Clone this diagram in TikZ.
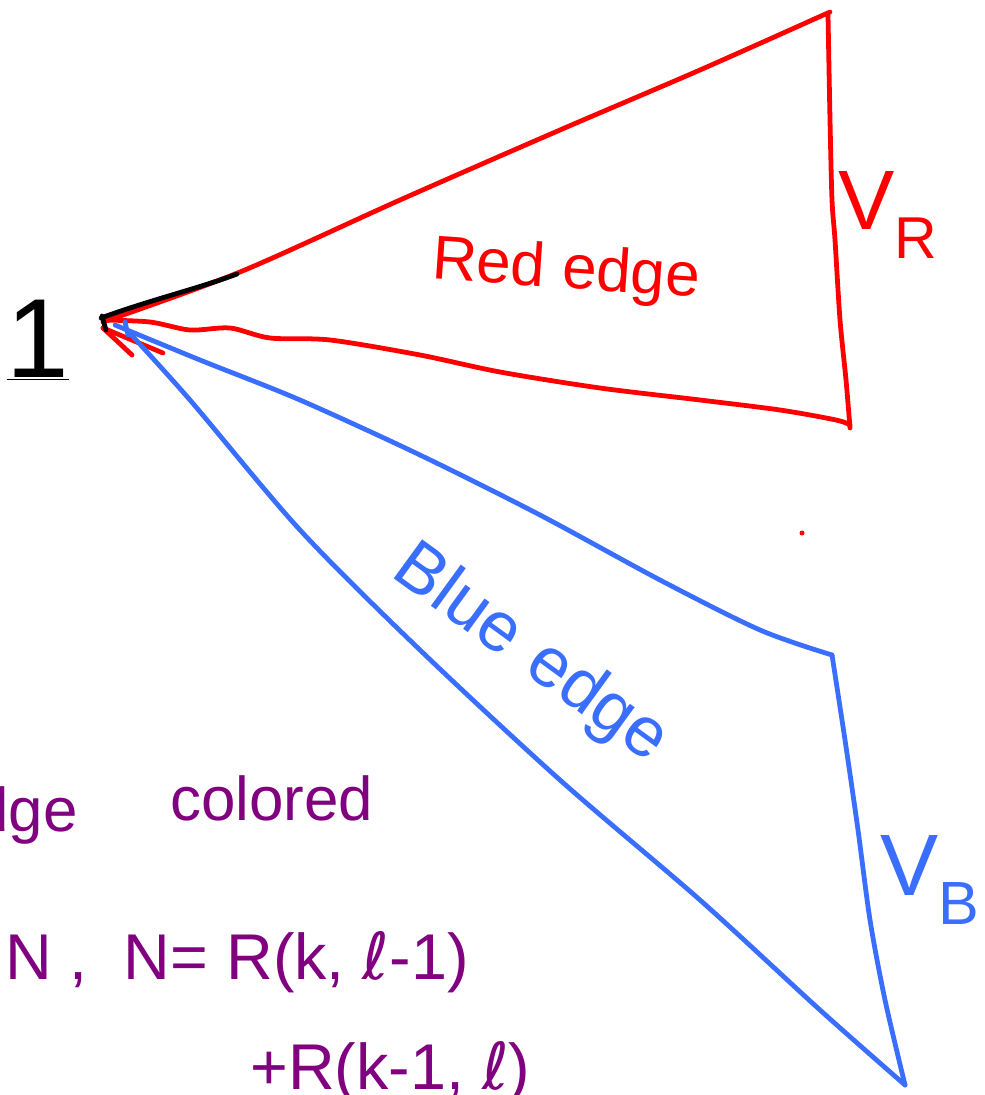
\documentclass[tikz,border=0pt]{standalone}
\usepackage{fontspec}
\setmainfont{Liberation Sans}
\newfontfamily\dvfont{DejaVu Sans}
\begin{document}
\begin{tikzpicture}[x=0.025cm,y=-0.025cm,
  pen/.style={line width=3.4pt,line cap=round,line join=round},
  redink/.style={pen,draw={rgb,255:red,255;green,0;blue,0}},
  blueink/.style={pen,draw={rgb,255:red,58;green,110;blue,255}},
  blackink/.style={pen,draw=black},
  lbl/.style={inner sep=0pt,anchor=center}]
\definecolor{inkred}{RGB}{255,0,0}
\definecolor{inkblue}{RGB}{58,110,255}
\definecolor{inkpurple}{RGB}{128,0,128}
\useasboundingbox (0,0) rectangle (984,1095);
\clip (0,0) rectangle (984,1095);
% vertices
\coordinate (apex) at (103,322);
\coordinate (rtop) at (830,12);
\coordinate (rbot) at (850,428);
\coordinate (btop) at (832,655);
\coordinate (bbot) at (905,1085);
% red triangle
\draw[redink] plot[smooth] coordinates {(103,322) (240,272) (400,200) (560,130) (700,70) (830,12)};
\draw[redink] plot[smooth] coordinates {(828,15) (830,120) (832,200) (835,240) (840,320) (846,380) (850,428)};
\draw[redink] plot[smooth] coordinates {(850,425) (836,420) (780,410) (700,400) (600,388) (500,372) (420,355) (330,340) (270,338) (230,328) (190,330) (150,322) (103,320)};
\draw[redink] (103,328) -- (163,353);
\draw[redink] (103,328) -- (132,355);
% black stroke
\draw[blackink] (101,318) .. controls (150,300) and (200,288) .. (237,274);
\draw[blackink] (102,316) -- (106,330);
% blue triangle
\draw[blueink] plot[smooth] coordinates {(115,325) (200,360) (300,400) (420,455) (540,515) (660,580) (760,630) (832,655)};
\draw[blueink] plot[smooth] coordinates {(832,655) (845,740) (858,830) (870,920) (885,1000) (905,1085)};
\draw[blueink] plot[smooth] coordinates {(125,328) (190,400) (300,530) (420,650) (560,780) (700,900) (820,1010) (905,1085)};
\draw[blueink] (125,322) -- (128,335);
% red dot
\fill[inkred] (802,533) circle (2.5);
% labels
\node[lbl,font=\fontsize{80}{80}\selectfont] (one) at (38,340) {\underline{1}};
\node[lbl,text=inkred,font=\fontsize{44}{44}\selectfont,rotate=-4] (redlbl) at (566,272) {Red edge};
\node[lbl,text=inkred,font=\fontsize{60}{60}\selectfont] (vr) at (888,215) {V$_{\mathrm{R}}$};
\node[lbl,text=inkblue,font=\fontsize{50}{50}\selectfont,rotate=-36] (bluelbl) at (530,655) {Blue\,\,edge};
\node[lbl,text=inkblue,font=\fontsize{62}{62}\selectfont,anchor=west] (vb) at (880,880) {V$_{\mathrm{B}}$};
\node[lbl,text=inkpurple,font=\fontsize{44}{44}\selectfont,anchor=east] (edgew) at (78,815) {edge};
\node[lbl,text=inkpurple,font=\fontsize{44}{44}\selectfont,anchor=west] (colored) at (170,798) {colored};
\node[lbl,text=inkpurple,font=\fontsize{46}{46}\selectfont,anchor=west] (eq1) at (5,962) {N ,\ \ N= R(k, {\dvfont ℓ}-1)};
\node[lbl,text=inkpurple,font=\fontsize{46}{46}\selectfont,anchor=west] (eq2) at (250,1072) {+R(k-1, {\dvfont ℓ})};
\end{tikzpicture}
\end{document}
